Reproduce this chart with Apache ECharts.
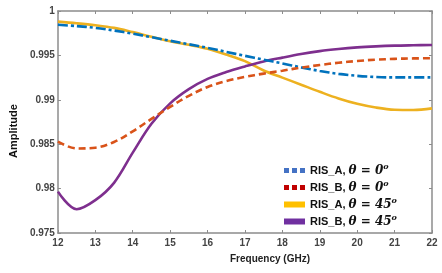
<!DOCTYPE html>
<html><head><meta charset="utf-8">
<script src="https://cdn.jsdelivr.net/npm/echarts@6/dist/echarts.min.js"></script>
<style>html,body{margin:0;padding:0;background:#fff}#c{width:442px;height:273px}</style>
</head><body><div id="c"></div>
<script>
const freq = [12,12.5,13,13.5,14,14.5,15,15.5,16,16.5,17,17.5,18,18.5,19,19.5,20,20.5,21,21.5,22];
const risA0 = [0.99845,0.9983,0.9981,0.9978,0.99745,0.99705,0.99665,0.99625,0.99585,0.9954,0.99495,0.99452,0.9941,0.99365,0.99325,0.99292,0.9927,0.99257,0.99252,0.99252,0.99252];
const risB0 = [0.98528,0.98452,0.9846,0.98525,0.98645,0.98785,0.9892,0.99045,0.99145,0.99212,0.99258,0.99295,0.99328,0.99362,0.99392,0.99417,0.99437,0.99452,0.99461,0.99466,0.99468];
const risA45 = [0.9988,0.99862,0.9984,0.9981,0.99762,0.9971,0.9966,0.9962,0.99575,0.9951,0.99435,0.9933,0.9925,0.9917,0.9909,0.99015,0.98955,0.98913,0.98888,0.98885,0.98903];
const risB45 = [0.97966,0.97768,0.9787,0.98065,0.98405,0.9873,0.9896,0.9912,0.99235,0.99312,0.99375,0.99432,0.99475,0.99515,0.99548,0.99572,0.9959,0.99602,0.9961,0.99614,0.99617];
const seriesNames = ['RIS_A, θ = 0', 'RIS_B, θ = 0', 'RIS_A, θ = 45', 'RIS_B, θ = 45'];
const xTicks = [12,13,14,15,16,17,18,19,20,21,22];
const yTicks = [0.975,0.98,0.985,0.99,0.995,1];

const lineColors = ['#0072BD','#D95319','#EDB120','#7E2F8E'];
const legendColors = ['#4472C4','#C00000','#FFC000','#7030A0'];
const dashes = [[10,3,3,3],[7,4],'solid','solid'];
const values = [risA0, risB0, risA45, risB45];
const dotsIcon = 'path://M0,0h5v5h-5z M8,0h5v5h-5z M16,0h5v5h-5z';

const chart = echarts.init(document.getElementById('c'), null, {renderer:'canvas'});
const axisGray = '#8c8c8c';
const grid = {left:56, right:10, top:11, bottom:40};
chart.setOption({
  animation:false,
  backgroundColor:'#fff',
  grid: grid,
  xAxis: [{
    type:'value', min:12, max:22, interval:1,
    axisLine:{show:true, lineStyle:{color:axisGray, width:1.5}},
    axisTick:{show:true, inside:true, length:3, lineStyle:{color:axisGray}},
    splitLine:{show:false},
    axisLabel:{color:'#444', fontSize:10, fontWeight:'bold', fontFamily:'Liberation Sans, Arial', margin:5},
    name:'Frequency (GHz)', nameLocation:'middle', nameGap:21,
    nameTextStyle:{color:'#222', fontSize:10, fontWeight:'bold', fontFamily:'Liberation Sans, Arial', padding:[0,0,0,50]}
  },{
    type:'value', position:'top', min:12, max:22, interval:1,
    axisLine:{show:true, lineStyle:{color:axisGray, width:1.5}},
    axisTick:{show:true, inside:true, length:3, lineStyle:{color:axisGray}},
    axisLabel:{show:false}, splitLine:{show:false}
  }],
  yAxis: [{
    type:'value', min:0.975, max:1, interval:0.005,
    axisLine:{show:true, lineStyle:{color:axisGray, width:1.5}},
    axisTick:{show:true, inside:true, length:3, lineStyle:{color:axisGray}},
    splitLine:{show:false},
    axisLabel:{color:'#444', fontSize:10, fontWeight:'bold', fontFamily:'Liberation Sans, Arial', margin:3,
      formatter: v => String(+(+v).toFixed(3))},
    name:'Amplitude', nameLocation:'middle', nameGap:38,
    nameTextStyle:{color:'#111', fontSize:11, fontWeight:'bold', fontFamily:'Liberation Sans, Arial', padding:[0,0,0,-18]}
  },{
    type:'value', position:'right', min:0.975, max:1, interval:0.005,
    axisLine:{show:true, lineStyle:{color:axisGray, width:1.5}},
    axisTick:{show:true, inside:true, length:3, lineStyle:{color:axisGray}},
    axisLabel:{show:false}, splitLine:{show:false}
  }],
  legend: {
    orient:'vertical', left:279, top:158, itemGap:2, itemWidth:21, itemHeight:6,
    data: seriesNames.map((n,i) => ({
      name:n, icon: i < 2 ? dotsIcon : 'rect',
      itemStyle:{color:legendColors[i], borderWidth:0},
      lineStyle:{width:0}
    })),
    formatter: name => {
      const p = name.split(', ');
      return '{a|' + p[0] + ', }{m|' + p[1] + '}{s|o}';
    },
    textStyle:{
      rich:{
        a:{fontSize:11, fontWeight:'bold', fontFamily:'Liberation Sans, Arial', color:'#111', lineHeight:14},
        m:{fontSize:12, fontWeight:'bold', fontStyle:'italic', fontFamily:'DejaVu Serif, Liberation Serif', color:'#111', lineHeight:14},
        s:{fontSize:8, fontWeight:'bold', fontStyle:'italic', fontFamily:'DejaVu Serif, Liberation Serif', color:'#111', padding:[0,0,7,0], lineHeight:14}
      }
    }
  },
  series: values.map((arr,i) => ({
    name: seriesNames[i], type:'line', smooth:0.35, showSymbol:false, symbol:'none',
    xAxisIndex:0, yAxisIndex:0,
    data: freq.map((f,k) => [f, arr[k]]),
    lineStyle:{color:lineColors[i], width:2.6, type:dashes[i]},
    itemStyle:{color:lineColors[i]},
    z: [3,3,2,2][i]
  }))
});
</script></body></html>
